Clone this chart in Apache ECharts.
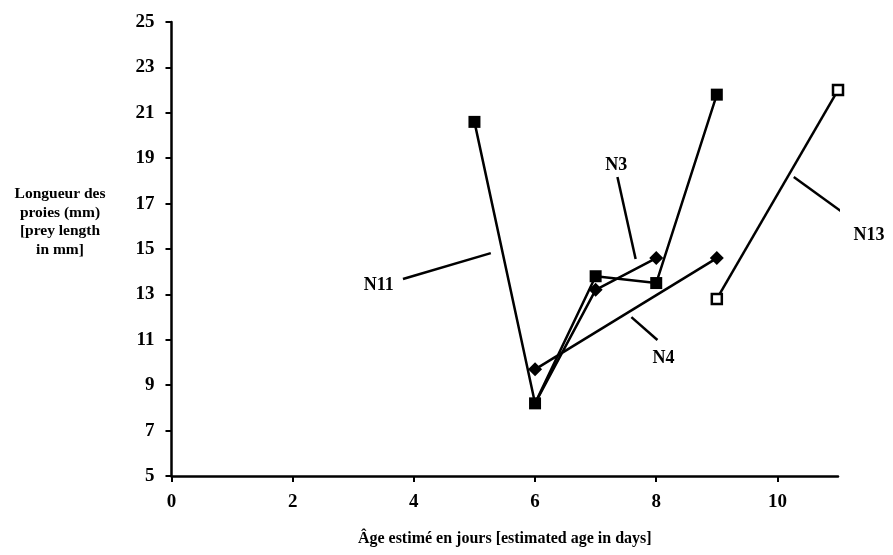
<!DOCTYPE html>
<html>
<head>
<meta charset="utf-8">
<script src="https://cdn.jsdelivr.net/npm/echarts@6/dist/echarts.min.js"></script>
<style>
html,body{margin:0;padding:0;background:#fff;}
#chart{width:893px;height:555px;}
</style>
</head>
<body>
<div id="chart"></div>
<script>
// Data (age in days, prey length in mm)
const n11 = [[5, 20.6], [6, 8.2], [7, 13.8], [8, 13.5], [9, 21.8]];
const n3 = [[6, 8.2], [7, 13.2], [8, 14.6]];
const n4 = [[6, 9.7], [9, 14.6]];
const n13 = [[9, 12.8], [11, 22.0]];

// Annotation labels and leader lines (data coordinates)
const labelNames = ['N11', 'N3', 'N4', 'N13'];
const labelPos = [[3.42, 13.4], [7.34, 18.7], [8.12, 10.2], [11.51, 15.6]];
const leaderLines = [
  [[3.82, 13.68], [5.27, 14.82]],
  [[7.36, 18.17], [7.66, 14.56]],
  [[7.59, 12.0], [8.02, 10.99]],
  [[10.27, 18.17], [11.23, 16.32]]
];

const xTicks = { min: 0, max: 11, interval: 2 };
const yTicks = { min: 5, max: 25, interval: 2 };

const FONT = '"Liberation Serif", "DejaVu Serif", serif';
const chart = echarts.init(document.getElementById('chart'), null, { renderer: 'canvas' });

const series = [];
series.push({
  type: 'line', symbol: 'diamond', symbolSize: 14,
  // first point is shared with N11's square marker
  data: n3.map(function (p, i) { return i === 0 ? { value: p, symbol: 'none' } : p; }),
  lineStyle: { color: '#000', width: 2.5 }, itemStyle: { color: '#000' }, z: 3
});
series.push({
  type: 'line', data: n4, symbol: 'diamond', symbolSize: 14,
  lineStyle: { color: '#000', width: 2.5 }, itemStyle: { color: '#000' }, z: 3
});
series.push({
  type: 'line', data: n11, symbol: 'rect', symbolSize: 12,
  lineStyle: { color: '#000', width: 2.5 }, itemStyle: { color: '#000' }, z: 4
});
series.push({
  type: 'line', data: n13, symbol: 'rect', symbolSize: 10,
  lineStyle: { color: '#000', width: 2.5 },
  itemStyle: { color: '#fff', borderColor: '#000', borderWidth: 2.5 }, z: 4
});
leaderLines.forEach(function (seg) {
  series.push({
    type: 'line', data: seg, symbol: 'none', clip: false, silent: true,
    lineStyle: { color: '#000', width: 2.5 }, z: 2
  });
});
series.push({
  type: 'scatter', clip: false, symbolSize: 0, silent: true,
  itemStyle: { opacity: 1, color: '#000' },
  data: labelPos.map(function (p, i) { return { value: p, name: labelNames[i] }; }),
  label: {
    show: true, position: 'inside', formatter: '{b}', opacity: 1,
    fontFamily: FONT, fontWeight: 'bold', fontSize: 18, color: '#000'
  }
});

chart.setOption({
  animation: false,
  backgroundColor: '#fff',
  grid: { left: 171.5, right: 55, top: 22, bottom: 79 },
  xAxis: {
    type: 'value', min: xTicks.min, max: xTicks.max, interval: xTicks.interval,
    splitLine: { show: false },
    axisLine: { show: true, onZero: false, lineStyle: { color: '#000', width: 2.5 } },
    axisTick: { show: true, length: 6, lineStyle: { color: '#000', width: 2 } },
    axisLabel: {
      margin: 17, color: '#000', fontFamily: FONT, fontWeight: 'bold', fontSize: 19,
      showMaxLabel: false
    },
    name: 'Âge estimé en jours [estimated age in days]',
    nameLocation: 'middle', nameGap: 55,
    nameTextStyle: { color: '#000', fontFamily: FONT, fontWeight: 'bold', fontSize: 16 }
  },
  yAxis: {
    type: 'value', min: yTicks.min, max: yTicks.max, interval: yTicks.interval,
    splitLine: { show: false },
    axisLine: { show: true, onZero: false, lineStyle: { color: '#000', width: 2.5 } },
    axisTick: { show: true, length: 6, lineStyle: { color: '#000', width: 2 } },
    axisLabel: { margin: 17, color: '#000', fontFamily: FONT, fontWeight: 'bold', fontSize: 19 }
  },
  graphic: [{
    type: 'text', x: 60, y: 185,
    style: {
      text: 'Longueur des\nproies (mm)\n[prey length\nin mm]',
      align: 'center', textAlign: 'center', fill: '#000',
      font: 'bold 15.5px ' + FONT, lineHeight: 18.5
    }
  }],
  series: series
});
</script>
</body>
</html>
